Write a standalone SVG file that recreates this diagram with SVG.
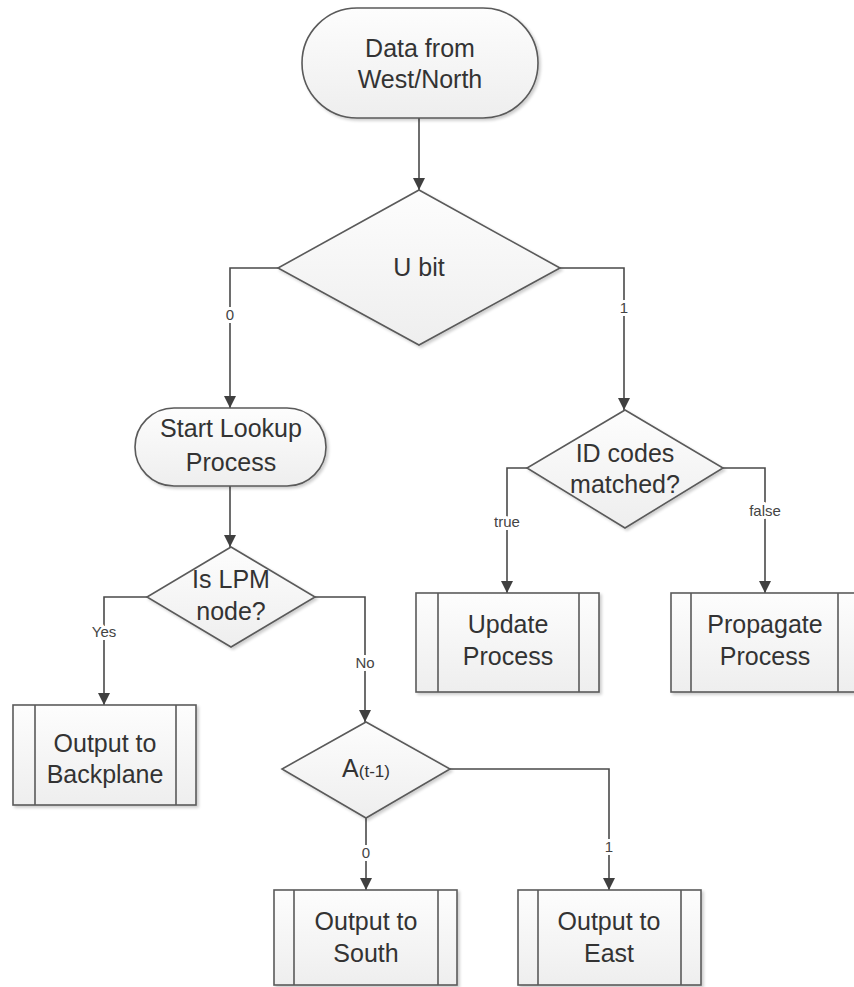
<svg xmlns="http://www.w3.org/2000/svg" width="854" height="987" viewBox="0 0 854 987">
<defs>
<linearGradient id="g" x1="0" y1="0" x2="0" y2="1">
<stop offset="0" stop-color="#fdfdfd"/>
<stop offset="1" stop-color="#eeeeee"/>
</linearGradient>
<filter id="sh" x="-10%" y="-10%" width="130%" height="130%">
<feGaussianBlur in="SourceAlpha" stdDeviation="1.5"/>
<feOffset dx="1.5" dy="2" result="b"/>
<feComponentTransfer><feFuncA type="linear" slope="0.2"/></feComponentTransfer>
<feMerge><feMergeNode/><feMergeNode in="SourceGraphic"/></feMerge>
</filter>
<marker id="arr" viewBox="0 0 12 12" refX="12" refY="6" markerWidth="12" markerHeight="12" markerUnits="userSpaceOnUse" orient="auto">
<path d="M0,0 L12,6 L0,12 Z" fill="#404040"/>
</marker>
</defs>
<style>
.s{fill:url(#g);stroke:#5a5a5a;stroke-width:1.6;filter:url(#sh)}
.l{fill:none;stroke:#5a5a5a;stroke-width:1.6}
.c{fill:none;stroke:#4a4a4a;stroke-width:1.6;marker-end:url(#arr)}
.t{font-family:"Liberation Sans",Arial,sans-serif;font-size:25px;fill:#333;text-anchor:middle}
.lb{font-family:"Liberation Sans",Arial,sans-serif;font-size:15px;fill:#444;text-anchor:middle;stroke:#fff;stroke-width:6px;paint-order:stroke;stroke-linejoin:round}
</style>
<g id="connectors">
<path class="c" d="M419,118 L419,190"/>
<path class="c" d="M278,268 L230,268 L230,408"/>
<path class="c" d="M560,268 L624,268 L624,410"/>
<path class="c" d="M230,486 L230,547"/>
<path class="c" d="M147,597 L104,597 L104,705"/>
<path class="c" d="M315,597 L365,597 L365,722"/>
<path class="c" d="M527,468 L507,468 L507,593"/>
<path class="c" d="M723,468 L765,468 L765,593"/>
<path class="c" d="M366,818 L366,890"/>
<path class="c" d="M450,769 L609,769 L609,890"/>
<text class="lb" x="230" y="320">0</text>
<text class="lb" x="624" y="313">1</text>
<text class="lb" x="104" y="637">Yes</text>
<text class="lb" x="365" y="668">No</text>
<text class="lb" x="507" y="527">true</text>
<text class="lb" x="765" y="516">false</text>
<text class="lb" x="366" y="858">0</text>
<text class="lb" x="609" y="852">1</text>
</g>
<g id="start">
<rect class="s" x="302" y="8" width="236" height="110" rx="55"/>
<text class="t" x="420" y="57">Data from</text>
<text class="t" x="420" y="88">West/North</text>
</g>
<g id="ubit">
<polygon class="s" points="419,190 560,268 419,345 278,268"/>
<text class="t" x="419" y="276">U bit</text>
</g>
<g id="lookup">
<rect class="s" x="135" y="408" width="191" height="78" rx="39"/>
<text class="t" x="231" y="437">Start Lookup</text>
<text class="t" x="231" y="471">Process</text>
</g>
<g id="lpm">
<polygon class="s" points="231,547 315,597 231,647 147,597"/>
<text class="t" x="231" y="588">Is LPM</text>
<text class="t" x="231" y="620">node?</text>
</g>
<g id="idcodes">
<polygon class="s" points="625,410 723,468 625,528 527,468"/>
<text class="t" x="625" y="462">ID codes</text>
<text class="t" x="625" y="493">matched?</text>
</g>
<g id="update">
<rect class="s" x="416" y="593" width="183" height="99"/>
<path class="l" d="M438,593 V692 M579,593 V692"/>
<text class="t" x="508" y="633">Update</text>
<text class="t" x="508" y="665">Process</text>
</g>
<g id="propagate">
<rect class="s" x="671" y="593" width="188" height="99"/>
<path class="l" d="M691,593 V692 M838,593 V692"/>
<text class="t" x="765" y="633">Propagate</text>
<text class="t" x="765" y="665">Process</text>
</g>
<g id="backplane">
<rect class="s" x="13" y="705" width="183" height="100"/>
<path class="l" d="M35,705 V805 M176,705 V805"/>
<text class="t" x="105" y="752">Output to</text>
<text class="t" x="105" y="783">Backplane</text>
</g>
<g id="at1">
<polygon class="s" points="366,722 450,769 366,818 282,769"/>
<text x="366" y="777" style="font-family:'Liberation Sans',Arial,sans-serif;fill:#333;text-anchor:middle"><tspan font-size="25px">A</tspan><tspan font-size="17px">(t-1)</tspan></text>
</g>
<g id="south">
<rect class="s" x="274" y="890" width="183" height="95"/>
<path class="l" d="M294,890 V985 M438,890 V985"/>
<text class="t" x="366" y="930">Output to</text>
<text class="t" x="366" y="962">South</text>
</g>
<g id="east">
<rect class="s" x="518" y="890" width="183" height="95"/>
<path class="l" d="M538,890 V985 M681,890 V985"/>
<text class="t" x="609" y="930">Output to</text>
<text class="t" x="609" y="962">East</text>
</g>
</svg>
